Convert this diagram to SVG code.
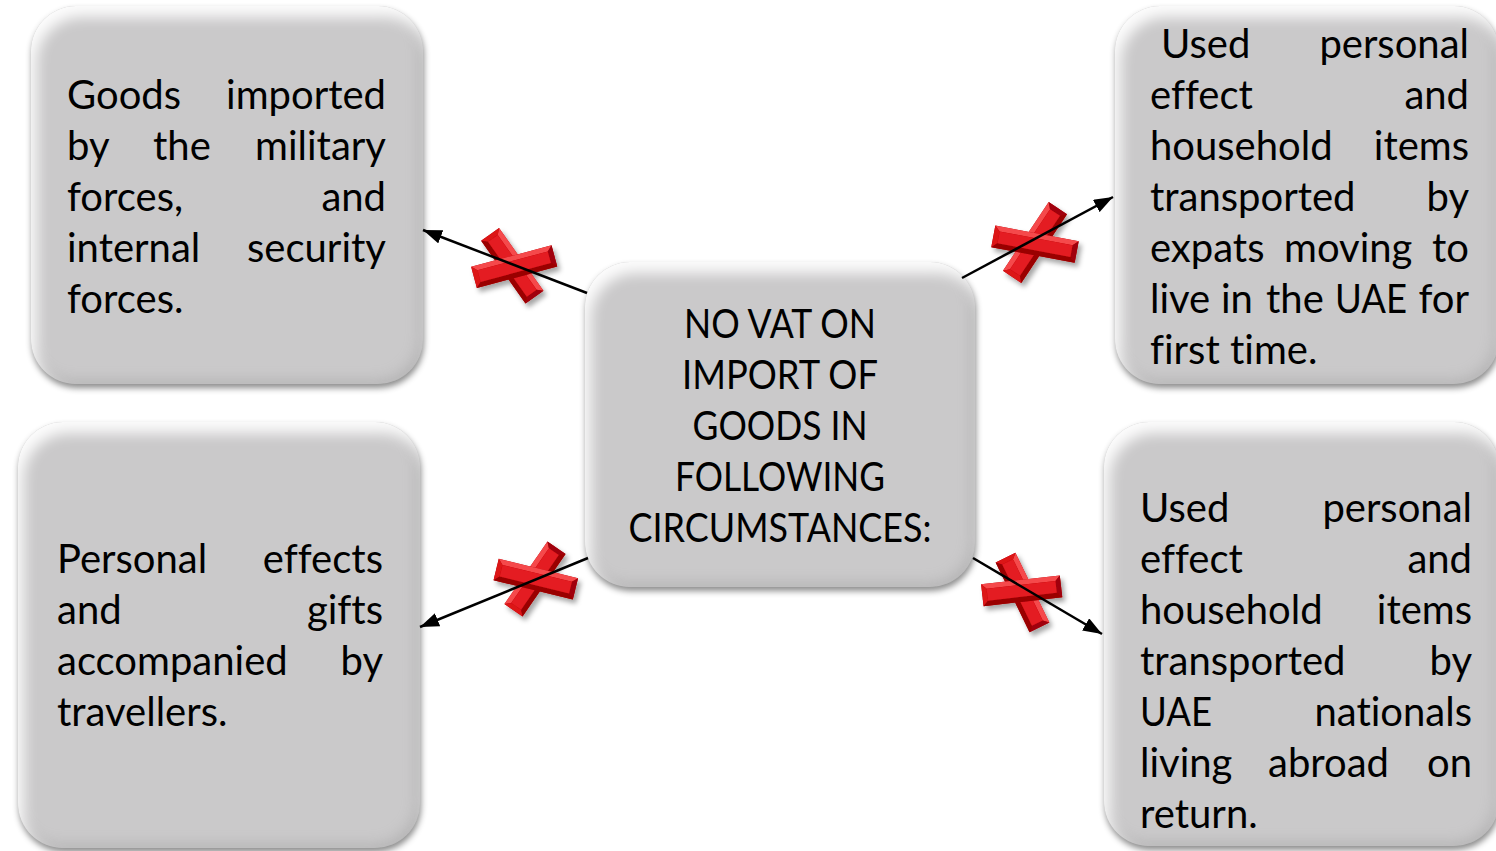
<svg xmlns="http://www.w3.org/2000/svg" xmlns:xlink="http://www.w3.org/1999/xlink" width="1496" height="851" viewBox="0 0 1496 851">
  <defs>
    <style>
      .box { fill: #cac9ca; filter: url(#softbevel); }
      .t { font-family: Lato, "Open Sans", "Liberation Sans", sans-serif; font-size: 40px; fill: #000; font-variant-ligatures: none; }
      .e { text-anchor: end; }
      .m { text-anchor: middle; }
      .conn { stroke: #000; stroke-width: 2.5; fill: none; marker-end: url(#arrow); }
      .cross { filter: url(#xshadow); }
    </style>

    <!-- soft rounded bevel: light top/left rim plus a drop shadow below -->
    <filter id="softbevel" x="-8%" y="-8%" width="118%" height="120%" color-interpolation-filters="sRGB">
      <feGaussianBlur in="SourceAlpha" stdDeviation="3" result="sb"/>
      <feOffset in="sb" dx="1" dy="4" result="so"/>
      <feFlood flood-color="#000" flood-opacity="0.45"/>
      <feComposite in2="so" operator="in" result="shadow"/>
      <feGaussianBlur in="SourceAlpha" stdDeviation="7" result="blur"/>
      <feOffset in="blur" dx="6" dy="11" result="blurDR"/>
      <feComposite in="SourceAlpha" in2="blurDR" operator="out" result="hlMask"/>
      <feFlood flood-color="#fff" flood-opacity="0.95"/>
      <feComposite in2="hlMask" operator="in" result="hl"/>
      <feOffset in="blur" dx="-3" dy="-3" result="blurUL"/>
      <feComposite in="SourceAlpha" in2="blurUL" operator="out" result="shMask"/>
      <feFlood flood-color="#8a8a8a" flood-opacity="0.35"/>
      <feComposite in2="shMask" operator="in" result="sh"/>
      <feMerge>
        <feMergeNode in="shadow"/>
        <feMergeNode in="SourceGraphic"/>
        <feMergeNode in="sh"/>
        <feMergeNode in="hl"/>
      </feMerge>
    </filter>

    <filter id="xshadow" x="-30%" y="-30%" width="160%" height="160%">
      <feDropShadow dx="3" dy="4" stdDeviation="2.5" flood-color="#000" flood-opacity="0.35"/>
    </filter>

    <marker id="arrow" markerUnits="userSpaceOnUse" markerWidth="19" markerHeight="14" viewBox="0 0 19 14" refX="19" refY="7" orient="auto">
      <path d="M0,0 L19,7 L0,14 z" fill="#000"/>
    </marker>

    <!-- one bevelled bar of the red cross, 80 long and 22 thick -->
    <g id="bar">
      <rect x="-40" y="-11" width="80" height="22" fill="#b0060a"/>
      <polygon points="-40,-11 40,-11 35,-6 -35,-6" fill="#f5484b"/>
      <polygon points="-40,-11 -35,-6 -35,6 -40,11" fill="#dc1317"/>
      <polygon points="40,-11 40,11 35,6 35,-6" fill="#a00408"/>
      <polygon points="-40,11 40,11 35,6 -35,6" fill="#9a0306"/>
      <rect x="-35" y="-6" width="70" height="12" fill="#e41b20"/>
    </g>
  </defs>

  <rect width="1496" height="851" fill="#fff"/>

  <!-- centre node -->
  <g id="node-centre">
    <rect class="box" x="585" y="262" width="390" height="325" rx="45" ry="45"/>
    <text class="t m" x="780" y="338" textLength="192" lengthAdjust="spacingAndGlyphs">NO VAT ON</text>
    <text class="t m" x="780" y="389" textLength="196" lengthAdjust="spacingAndGlyphs">IMPORT OF</text>
    <text class="t m" x="780" y="440" textLength="175" lengthAdjust="spacingAndGlyphs">GOODS IN</text>
    <text class="t m" x="780" y="491" textLength="210" lengthAdjust="spacingAndGlyphs">FOLLOWING</text>
    <text class="t m" x="780" y="542" textLength="303" lengthAdjust="spacingAndGlyphs">CIRCUMSTANCES:</text>
  </g>

  <!-- top-left node -->
  <g id="node-military">
    <rect class="box" x="31" y="6" width="392" height="378" rx="45" ry="45"/>
    <text class="t" x="67" y="109">Goods</text><text class="t e" x="386" y="109">imported</text>
    <text class="t" x="67" y="160">by</text><text class="t" x="153" y="160">the</text><text class="t e" x="386" y="160">military</text>
    <text class="t" x="67" y="211">forces,</text><text class="t e" x="386" y="211">and</text>
    <text class="t" x="67" y="262">internal</text><text class="t e" x="386" y="262">security</text>
    <text class="t" x="67" y="313">forces.</text>
  </g>

  <!-- top-right node -->
  <g id="node-expats">
    <rect class="box" x="1115" y="6" width="384" height="378" rx="45" ry="45"/>
    <text class="t" x="1161" y="58">Used</text><text class="t e" x="1469" y="58">personal</text>
    <text class="t" x="1150" y="109">effect</text><text class="t e" x="1469" y="109">and</text>
    <text class="t" x="1150" y="160">household</text><text class="t e" x="1469" y="160">items</text>
    <text class="t" x="1150" y="211">transported</text><text class="t e" x="1469" y="211">by</text>
    <text class="t" x="1150" y="262">expats</text><text class="t" x="1284" y="262">moving</text><text class="t e" x="1469" y="262">to</text>
    <text class="t" x="1150" y="313">live</text><text class="t" x="1221" y="313">in</text><text class="t" x="1266" y="313">the</text><text class="t" x="1335" y="313" textLength="72" lengthAdjust="spacingAndGlyphs">UAE</text><text class="t e" x="1469" y="313">for</text>
    <text class="t" x="1150" y="364">first time.</text>
  </g>

  <!-- bottom-left node -->
  <g id="node-travellers">
    <rect class="box" x="18" y="422" width="402" height="426" rx="45" ry="45"/>
    <text class="t" x="57" y="573">Personal</text><text class="t e" x="383" y="573">effects</text>
    <text class="t" x="57" y="624">and</text><text class="t e" x="383" y="624">gifts</text>
    <text class="t" x="57" y="675">accompanied</text><text class="t e" x="383" y="675">by</text>
    <text class="t" x="57" y="726">travellers.</text>
  </g>

  <!-- bottom-right node -->
  <g id="node-nationals">
    <rect class="box" x="1104" y="422" width="395" height="424" rx="45" ry="45"/>
    <text class="t" x="1140" y="522">Used</text><text class="t e" x="1472" y="522">personal</text>
    <text class="t" x="1140" y="573">effect</text><text class="t e" x="1472" y="573">and</text>
    <text class="t" x="1140" y="624">household</text><text class="t e" x="1472" y="624">items</text>
    <text class="t" x="1140" y="675">transported</text><text class="t e" x="1472" y="675">by</text>
    <text class="t" x="1140" y="726" textLength="72" lengthAdjust="spacingAndGlyphs">UAE</text><text class="t e" x="1472" y="726">nationals</text>
    <text class="t" x="1140" y="777">living</text><text class="t" x="1268" y="777">abroad</text><text class="t e" x="1472" y="777">on</text>
    <text class="t" x="1140" y="828">return.</text>
  </g>

  <!-- red crosses on each link -->
  <g id="crosses">
    <g class="cross">
      <use xlink:href="#bar" transform="translate(512.3,265.8) rotate(54.7) scale(0.96,1)"/>
      <use xlink:href="#bar" transform="translate(514.2,266.7) rotate(-15) scale(1.04,1)"/>
    </g>
    <g class="cross">
      <use xlink:href="#bar" transform="translate(1035,242.5) rotate(-56.3) scale(1.03,1)"/>
      <use xlink:href="#bar" transform="translate(1035,244.2) rotate(10.6) scale(1.06,1)"/>
    </g>
    <g class="cross">
      <use xlink:href="#bar" transform="translate(535,579) rotate(-55.5) scale(0.95,1)"/>
      <use xlink:href="#bar" transform="translate(535.8,579.2) rotate(13.7) scale(1.02,1)"/>
    </g>
    <g class="cross">
      <use xlink:href="#bar" transform="translate(1022.5,592.5) rotate(64.1) scale(0.97,1)"/>
      <use xlink:href="#bar" transform="translate(1021.7,590.8) rotate(-6.5) scale(0.99,1)"/>
    </g>
  </g>

  <!-- connectors from the centre node -->
  <g id="connectors">
    <line class="conn" x1="587" y1="293" x2="423" y2="230"/>
    <line class="conn" x1="962" y1="278" x2="1113" y2="197"/>
    <line class="conn" x1="588" y1="558" x2="420" y2="627"/>
    <line class="conn" x1="973" y1="558" x2="1102" y2="634"/>
  </g>
</svg>
